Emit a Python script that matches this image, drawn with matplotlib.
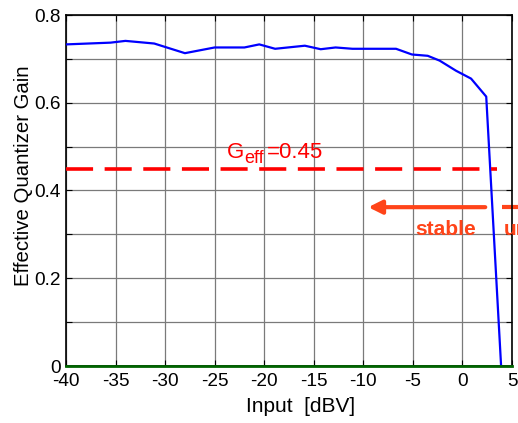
import matplotlib
matplotlib.use("Agg")
import matplotlib.pyplot as plt
import numpy as np

plt.rcParams['font.family'] = ['Liberation Sans', 'DejaVu Sans']

input_dbv = [-40, -35.5, -34.0, -31.1, -28.0, -25.0, -22.0, -20.5, -18.9, -15.9,
             -14.3, -12.8, -11.1, -6.7, -5.1, -3.5, -2.3, -0.65, 0.87, 2.4, 3.9]
gain = [0.733, 0.737, 0.741, 0.735, 0.713, 0.726, 0.726, 0.733, 0.723, 0.730,
        0.722, 0.726, 0.723, 0.723, 0.710, 0.707, 0.696, 0.673, 0.655, 0.614, 0.0]
g_eff = 0.45
xticks = [-40, -35, -30, -25, -20, -15, -10, -5, 0, 5]
yticks_major = [0, 0.2, 0.4, 0.6, 0.8]
ytick_labels = ['0', '0.2', '0.4', '0.6', '0.8']

W, H = 518, 423
fig = plt.figure(figsize=(W/100, H/100), dpi=100)
ax = fig.add_axes([66/W, 57/H, 446/W, 351/H])

ax.plot(input_dbv, gain, color='#0000FF', lw=1.6, zorder=3)
ax.plot([-40, 5], [0, 0], color='#006400', lw=2.0, zorder=4, clip_on=False)
ax.plot([-40, 3.5], [g_eff, g_eff], color='#FF0000', lw=2.6,
        dashes=(7.5, 3.2), zorder=3)

ax.set_xlim(-40, 5)
ax.set_ylim(0, 0.8)
ax.set_xticks(xticks)
ax.set_xticklabels([str(t) for t in xticks])
ax.set_yticks(yticks_major)
ax.set_yticklabels(ytick_labels)
ax.set_yticks(np.arange(0.1, 0.8, 0.2), minor=True)
ax.grid(True, which='both', color='#7a7a7a', lw=0.9)
ax.set_axisbelow(True)
ax.tick_params(which='both', direction='in', top=True, right=True, length=4,
               labelsize=13.7, width=0.8)
ax.tick_params(axis='x', pad=5)
ax.tick_params(axis='y', pad=4)
for s in ax.spines.values():
    s.set_linewidth(1.2)

fig.text(301/W, 1 - 406/H, 'Input  [dBV]', fontsize=15, ha='center', va='center')
fig.text(24/W, 1 - 176/H, 'Effective Quantizer Gain', fontsize=14.7,
         rotation=90, ha='center', va='center')

red = '#FF0000'
ax.text(-23.75, 0.4734, 'G', color=red, fontsize=16, ha='left', va='baseline')
ax.text(-22.0, 0.4627, 'eff', color=red, fontsize=13, ha='left', va='baseline')
ax.text(-19.75, 0.4734, '=0.45', color=red, fontsize=16, ha='left', va='baseline')

arrow_color = '#FF4419'
ax.annotate('', xy=(-9.5, 0.362), xytext=(2.3, 0.362),
            arrowprops=dict(arrowstyle='-|>', color=arrow_color, lw=3.0,
                            mutation_scale=20, shrinkA=0, shrinkB=0),
            annotation_clip=False)
ax.plot([4.0, 6.0], [0.362, 0.362], color=arrow_color, lw=3.0, clip_on=False,
        solid_capstyle='butt')
ax.text(-1.65, 0.312, 'stable', color=arrow_color, fontsize=15,
        fontweight='bold', ha='center', va='center')
ax.text(4.2, 0.312, 'unstable', color=arrow_color, fontsize=15,
        fontweight='bold', ha='left', va='center', clip_on=False)

fig.savefig('out.png', dpi=100)
